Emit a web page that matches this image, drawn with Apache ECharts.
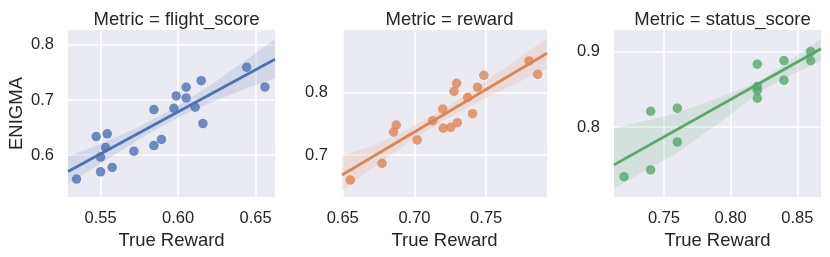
<!DOCTYPE html>
<html>
<head>
<meta charset="utf-8">
<script src="https://cdn.jsdelivr.net/npm/echarts@6/dist/echarts.min.js"></script>
<style>
html,body{margin:0;padding:0;background:#fff;}
#c{width:830px;height:257px;}
</style>
</head>
<body>
<div id="c"></div>
<script>
// ---- data ----
const panelTitles = ['Metric = flight_score', 'Metric = reward', 'Metric = status_score'];
const xAxisName = 'True Reward';
const yAxisName = 'ENIGMA';

// flight_score
const flightX = [0.5345,0.5472,0.5543,0.5532,0.5500,0.5500,0.5575,0.5715,0.5844,0.5893,0.5844,0.5973,0.5988,0.6052,0.6052,0.6110,0.6149,0.6160,0.6442,0.6560];
const flightY = [0.5565,0.6337,0.6386,0.6138,0.5964,0.5697,0.5776,0.6072,0.6174,0.6283,0.6826,0.6850,0.7074,0.7232,0.7038,0.6870,0.7351,0.6572,0.7594,0.7237];
// reward
const rewardX = [0.6553,0.6774,0.6854,0.6873,0.7019,0.7128,0.7197,0.7201,0.7253,0.7299,0.7276,0.7294,0.7371,0.7405,0.7440,0.7484,0.7799,0.7859];
const rewardY = [0.6599,0.6867,0.7369,0.7481,0.7241,0.7551,0.7738,0.7433,0.7444,0.7518,0.8022,0.8151,0.7926,0.7663,0.8087,0.8279,0.8509,0.8295];
// status_score
const statusX = [0.72,0.74,0.74,0.76,0.76,0.82,0.82,0.82,0.82,0.84,0.84,0.86,0.86];
const statusY = [0.7344,0.7433,0.8212,0.8252,0.7805,0.8837,0.8539,0.8490,0.8385,0.8885,0.8624,0.9004,0.8885];

// regression fit lines (end points)
const flightFitX = [0.529, 0.6625];
const flightFitY = [0.5703, 0.7739];
const rewardFitX = [0.6495, 0.7924];
const rewardFitY = [0.668, 0.8632];
const statusFitX = [0.7125, 0.8678];
const statusFitY = [0.750, 0.904];

// confidence bands
const flightBandX  = [0.529, 0.55, 0.575, 0.59, 0.605, 0.625, 0.645, 0.6625];
const flightBandLo = [0.5475,0.585,0.629,0.653,0.675,0.700,0.722,0.7395];
const flightBandHi = [0.5975,0.620,0.652,0.674,0.698,0.735,0.775,0.8107];
const rewardBandX  = [0.6495,0.67,0.695,0.72,0.745,0.77,0.7924];
const rewardBandLo = [0.642,0.678,0.719,0.755,0.786,0.814,0.839];
const rewardBandHi = [0.699,0.714,0.741,0.773,0.811,0.851,0.887];
const statusBandX  = [0.7125,0.7595,0.7995,0.82,0.84,0.8678];
const statusBandLo = [0.719,0.7655,0.8163,0.8451,0.865,0.888];
const statusBandHi = [0.7987,0.8186,0.8451,0.8597,0.8827,0.9173];

// axis ticks / ranges
const flightXTicks = [0.55, 0.60, 0.65];
const flightYTicks = [0.6, 0.7, 0.8];
const rewardXTicks = [0.65, 0.70, 0.75];
const rewardYTicks = [0.7, 0.8];
const statusXTicks = [0.75, 0.80, 0.85];
const statusYTicks = [0.8, 0.9];
const flightXRange = [0.529, 0.6625];
const flightYRange = [0.524, 0.827];
const rewardXRange = [0.6495, 0.7924];
const rewardYRange = [0.6326, 0.9006];
const statusXRange = [0.7125, 0.8678];
const statusYRange = [0.7074, 0.929];

// ---- build ----
const colors = ['#4C72B0', '#DD8452', '#55A868'];
const textColor = '#262626';
const grids = [
  {left: 68, top: 30, width: 207, height: 167},
  {left: 342, top: 30, width: 205, height: 167},
  {left: 614, top: 30, width: 207, height: 167}
];
const panels = [
  {x: flightX, y: flightY, fx: flightFitX, fy: flightFitY, bx: flightBandX, bl: flightBandLo, bh: flightBandHi,
   xt: flightXTicks, yt: flightYTicks, xr: flightXRange, yr: flightYRange},
  {x: rewardX, y: rewardY, fx: rewardFitX, fy: rewardFitY, bx: rewardBandX, bl: rewardBandLo, bh: rewardBandHi,
   xt: rewardXTicks, yt: rewardYTicks, xr: rewardXRange, yr: rewardYRange},
  {x: statusX, y: statusY, fx: statusFitX, fy: statusFitY, bx: statusBandX, bl: statusBandLo, bh: statusBandHi,
   xt: statusXTicks, yt: statusYTicks, xr: statusXRange, yr: statusYRange}
];
const FONT = '"Liberation Sans", Arial, sans-serif';

const option = {
  animation: false,
  backgroundColor: '#ffffff',
  textStyle: {fontFamily: FONT},
  title: panels.map((p, i) => ({
    text: panelTitles[i],
    left: grids[i].left + grids[i].width / 2,
    textAlign: 'center',
    top: 5,
    textStyle: {fontFamily: FONT, fontSize: 18.5, fontWeight: 'normal', color: textColor}
  })),
  grid: grids.map(g => Object.assign({show: true, backgroundColor: '#EAEAF2', borderWidth: 0, containLabel: false}, g)),
  xAxis: panels.map((p, i) => ({
    type: 'value', gridIndex: i, min: p.xr[0], max: p.xr[1],
    name: xAxisName, nameLocation: 'middle', nameGap: 30,
    nameTextStyle: {fontFamily: FONT, fontSize: 18.5, color: textColor},
    axisLine: {show: false},
    axisTick: {show: false, customValues: p.xt},
    axisLabel: {customValues: p.xt, formatter: v => v.toFixed(2), fontFamily: FONT, fontSize: 16.5, color: textColor, margin: 13},
    splitLine: {show: true, lineStyle: {color: '#ffffff', width: 1.5}}
  })),
  yAxis: panels.map((p, i) => ({
    type: 'value', gridIndex: i, min: p.yr[0], max: p.yr[1],
    name: i === 0 ? yAxisName : '', nameLocation: 'middle', nameGap: 42, nameRotate: 90,
    nameTextStyle: {fontFamily: FONT, fontSize: 18.5, color: textColor},
    axisLine: {show: false},
    axisTick: {show: false, customValues: p.yt},
    axisLabel: {customValues: p.yt, formatter: v => v.toFixed(1), fontFamily: FONT, fontSize: 16.5, color: textColor, margin: 14},
    splitLine: {show: true, lineStyle: {color: '#ffffff', width: 1.5}}
  })),
  series: []
};

panels.forEach((p, i) => {
  option.series.push({
    type: 'scatter', xAxisIndex: i, yAxisIndex: i,
    data: p.x.map((v, k) => [v, p.y[k]]),
    symbol: 'circle', symbolSize: 9.5,
    itemStyle: {color: colors[i], opacity: 0.8},
    z: 2, silent: true
  });
  const bandData = p.bx.map((v, k) => [v, p.bl[k], p.bh[k]]);
  option.series.push({
    type: 'custom', xAxisIndex: i, yAxisIndex: i,
    data: bandData,
    encode: {x: 0, y: [1, 2]},
    renderItem: function (params, api) {
      if (params.dataIndex !== 0) return null;
      const pts = [];
      for (let k = 0; k < bandData.length; k++) pts.push(api.coord([bandData[k][0], bandData[k][2]]));
      for (let k = bandData.length - 1; k >= 0; k--) pts.push(api.coord([bandData[k][0], bandData[k][1]]));
      return {type: 'polygon', shape: {points: pts}, style: {fill: colors[i], opacity: 0.15}};
    },
    z: 3, silent: true
  });
  option.series.push({
    type: 'line', xAxisIndex: i, yAxisIndex: i,
    data: p.fx.map((v, k) => [v, p.fy[k]]),
    showSymbol: false, symbol: 'none',
    lineStyle: {color: colors[i], width: 2.8},
    z: 4, silent: true
  });
});

const chart = echarts.init(document.getElementById('c'), null, {renderer: 'canvas'});
chart.setOption(option);
</script>
</body>
</html>
